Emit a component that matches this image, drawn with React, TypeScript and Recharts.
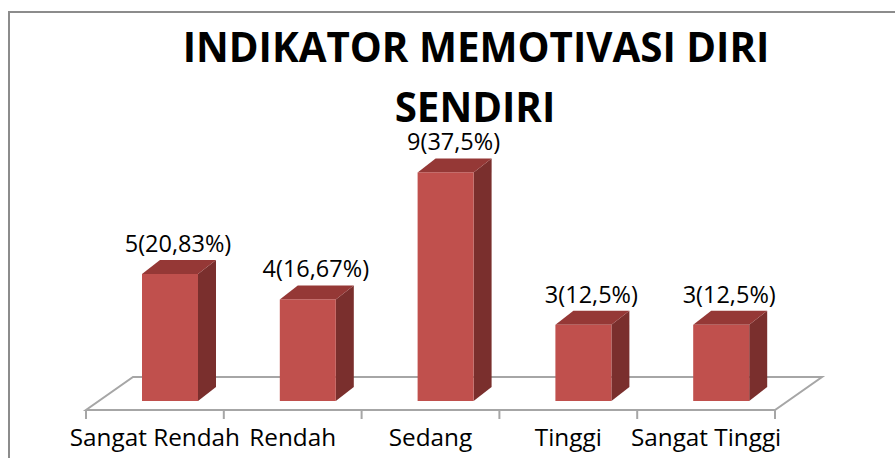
import { Bar, BarChart, XAxis, YAxis } from "recharts";

const categories = ["Sangat Rendah", "Rendah", "Sedang", "Tinggi", "Sangat Tinggi"];
const counts = [5, 4, 9, 3, 3];
const titleLines = ["INDIKATOR MEMOTIVASI DIRI", "SENDIRI"];

const total = counts.reduce((a, b) => a + b, 0);

const data = categories.map((name, i) => ({
	name,
	value: counts[i],
	label: `${counts[i]}(${String(Number(((counts[i] / total) * 100).toFixed(2))).replace(".", ",")}%)`,
}));

const W = 895;
const H = 458;
const FONT = "'Open Sans', sans-serif";

// plot area (front of the floor runs from PLOT_LEFT to PLOT_RIGHT)
const MARGIN = { top: 147, right: 120, bottom: 0, left: 86 };
const AXIS_H = 57;
const BASE = H - MARGIN.bottom - AXIS_H; // bar base line
const PLOT_LEFT = MARGIN.left;
const PLOT_RIGHT = W - MARGIN.right;

// 3d look
const SHIFT = 15; // bars sit a bit back on the floor
const DEPTH_X = 18;
const DEPTH_Y = 14;
const FLOOR_FRONT = BASE + 9;
const FLOOR_BACK = BASE - 24;
const FLOOR_DX = 47;

const FRONT = "#c0504d";
const TOP = "#953836";
const SIDE = "#7a2f2d";
const GRID = "#a6a6a6";

function Bar3D(props: any) {
	const { x, y, width, height } = props;
	const x0 = x + SHIFT;
	const x1 = x0 + width;
	const b = y + height;
	return (
		<g>
			<polygon
				points={`${x1},${y} ${x1 + DEPTH_X},${y - DEPTH_Y} ${x1 + DEPTH_X},${b - DEPTH_Y} ${x1},${b}`}
				fill={SIDE}
			/>
			<polygon
				points={`${x0},${y} ${x1},${y} ${x1 + DEPTH_X},${y - DEPTH_Y} ${x0 + DEPTH_X},${y - DEPTH_Y}`}
				fill={TOP}
			/>
			<rect x={x0} y={y} width={width} height={height} fill={FRONT} />
		</g>
	);
}

function BarLabel(props: any) {
	const { x, y, width, index } = props;
	return (
		<text
			x={x + SHIFT + width / 2 + 8}
			y={y - 22}
			textAnchor="middle"
			fontFamily={FONT}
			fontSize={23.5}
			fill="#000"
		>
			{data[index].label}
		</text>
	);
}

function CategoryTick(props: any) {
	const { x, y, payload } = props;
	return (
		<text x={x} y={y + 45} textAnchor="middle" fontFamily={FONT} fontSize={24.3} fill="#000">
			{payload.value}
		</text>
	);
}

function Backdrop() {
	const band = (PLOT_RIGHT - PLOT_LEFT) / categories.length;
	const ticks = Array.from({ length: categories.length + 1 }, (_, i) => PLOT_LEFT + i * band);
	return (
		<svg width={W} height={H} style={{ position: "absolute", left: 0, top: 0 }}>
			<rect x={0} y={0} width={W} height={H} fill="#fff" />
			<rect x={9} y={12} width={W + 50} height={H + 50} fill="none" stroke="#8c8c8c" strokeWidth={2} />
			<text x={476} y={62} textAnchor="middle" fontFamily={FONT} fontWeight={700} fontSize={40.3} fill="#000">
				{titleLines[0]}
			</text>
			<text x={475} y={122} textAnchor="middle" fontFamily={FONT} fontWeight={700} fontSize={40.3} fill="#000">
				{titleLines[1]}
			</text>
			<polygon
				points={`${PLOT_LEFT},${FLOOR_FRONT} ${PLOT_RIGHT},${FLOOR_FRONT} ${PLOT_RIGHT + FLOOR_DX},${FLOOR_BACK} ${PLOT_LEFT + FLOOR_DX},${FLOOR_BACK}`}
				fill="none"
				stroke={GRID}
				strokeWidth={2}
				strokeLinejoin="miter"
			/>
			{ticks.map((t) => (
				<line key={t} x1={t} x2={t} y1={FLOOR_FRONT} y2={FLOOR_FRONT + 9} stroke={GRID} strokeWidth={2} />
			))}
		</svg>
	);
}

export default function App() {
	return (
		<div style={{ position: "absolute", left: 0, top: 0, width: W, height: H, overflow: "hidden" }}>
			<Backdrop />
			<div style={{ position: "absolute", left: 0, top: 0 }}>
				<BarChart width={W} height={H} data={data} margin={MARGIN}>
					<XAxis
						dataKey="name"
						height={AXIS_H}
						axisLine={false}
						tickLine={false}
						tickSize={0}
						tickMargin={0}
						interval={0}
						tick={CategoryTick}
					/>
					<YAxis hide domain={[0, 10]} />
					<Bar
						dataKey="value"
						barSize={56}
						shape={Bar3D}
						label={BarLabel}
						isAnimationActive={false}
					/>
				</BarChart>
			</div>
		</div>
	);
}
